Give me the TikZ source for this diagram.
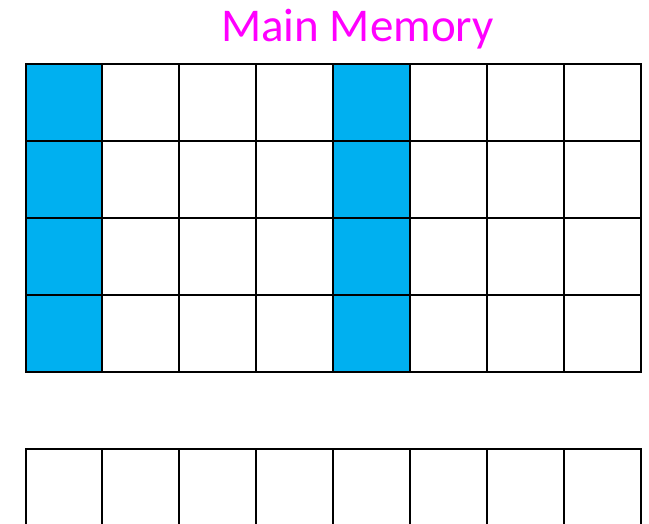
\documentclass[tikz,border=0pt]{standalone}
\usepackage{fontspec}
\setmainfont{Carlito}
\definecolor{cellblue}{HTML}{00B0F0}
\definecolor{titlemag}{HTML}{FF00FF}
\begin{document}
\begin{tikzpicture}[x=1pt,y=-1pt,
  cell/.style={draw=black,line width=2pt},
  hot/.style={cell,fill=cellblue}]
\useasboundingbox (0,0) rectangle (649,524);
\node[anchor=base,text=titlemag,font=\fontsize{47}{50}\selectfont,inner sep=0pt] (title) at (357.5,42) {Main Memory};
\def\cw{76.875}
\def\ch{76.95}
\foreach \r in {0,...,3}{
  \foreach \c in {0,...,7}{
    \pgfmathsetmacro{\xa}{25.5+\c*\cw}
    \pgfmathsetmacro{\ya}{64.5+\r*\ch}
    \ifnum\c=0
      \draw[hot] (\xa,\ya) rectangle ++(\cw,\ch);
    \else\ifnum\c=4
      \draw[hot] (\xa,\ya) rectangle ++(\cw,\ch);
    \else
      \draw[cell] (\xa,\ya) rectangle ++(\cw,\ch);
    \fi\fi
  }
}
\begin{scope}
\clip (0,0) rectangle (649,524);
\foreach \c in {0,...,7}{
  \pgfmathsetmacro{\xa}{25.5+\c*\cw}
  \draw[cell] (\xa,449) rectangle ++(\cw,\ch);
}
\end{scope}
\end{tikzpicture}
\end{document}
